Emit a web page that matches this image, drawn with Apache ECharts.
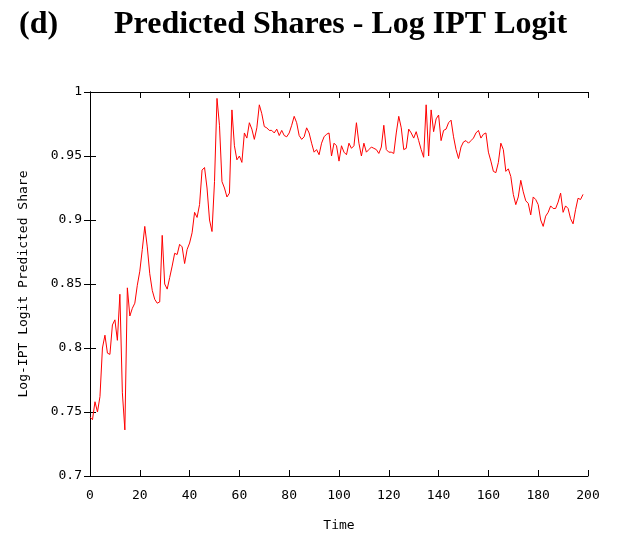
<!DOCTYPE html>
<html>
<head>
<meta charset="utf-8">
<script src="https://cdn.jsdelivr.net/npm/echarts@6/dist/echarts.min.js"></script>
<style>
  html, body { margin: 0; padding: 0; background: #fff; }
  #chart { width: 619px; height: 537px; }
</style>
</head>
<body>
<div id="chart"></div>
<script>
// predicted share, one value per period, t = 0 .. 198
const startTime = 0
const shares = [
  0.746, 0.744, 0.758, 0.750, 0.762, 0.800, 0.810, 0.796, 0.795, 0.818,
  0.822, 0.806, 0.842, 0.765, 0.736, 0.847, 0.825, 0.831, 0.835, 0.849,
  0.860, 0.877, 0.895, 0.879, 0.858, 0.845, 0.838, 0.835, 0.836, 0.888,
  0.850, 0.846, 0.855, 0.864, 0.874, 0.873, 0.881, 0.879, 0.866, 0.877,
  0.882, 0.890, 0.906, 0.902, 0.912, 0.939, 0.941, 0.925, 0.900, 0.891,
  0.930, 0.995, 0.974, 0.930, 0.925, 0.918, 0.921, 0.986, 0.958, 0.947,
  0.950, 0.945, 0.968, 0.964, 0.976, 0.971, 0.963, 0.972, 0.990, 0.983,
  0.973, 0.972, 0.970, 0.970, 0.968, 0.971, 0.966, 0.970, 0.966, 0.965,
  0.968, 0.974, 0.981, 0.976, 0.966, 0.963, 0.965, 0.972, 0.968, 0.960,
  0.953, 0.955, 0.951, 0.960, 0.965, 0.967, 0.968, 0.950, 0.960, 0.958,
  0.946, 0.958, 0.953, 0.951, 0.960, 0.956, 0.958, 0.976, 0.960, 0.950,
  0.960, 0.953, 0.955, 0.957, 0.956, 0.955, 0.952, 0.957, 0.974, 0.955,
  0.953, 0.953, 0.952, 0.968, 0.981, 0.972, 0.955, 0.956, 0.971, 0.968,
  0.964, 0.969, 0.962, 0.955, 0.949, 0.990, 0.950, 0.986, 0.969, 0.979,
  0.982, 0.962, 0.970, 0.971, 0.976, 0.978, 0.965, 0.955, 0.948, 0.957,
  0.961, 0.962, 0.960, 0.962, 0.964, 0.968, 0.970, 0.964, 0.967, 0.968,
  0.953, 0.946, 0.938, 0.937, 0.945, 0.960, 0.955, 0.938, 0.940, 0.934,
  0.920, 0.912, 0.918, 0.931, 0.922, 0.915, 0.913, 0.904, 0.918, 0.916,
  0.912, 0.900, 0.895, 0.903, 0.906, 0.911, 0.909, 0.909, 0.914, 0.921,
  0.906, 0.911, 0.909, 0.901, 0.897, 0.908, 0.917, 0.916, 0.920
]
const xTicks = { min: 0, max: 200, step: 20 }
const yTicks = { min: 0.7, max: 1, step: 0.05 }

const monoFont = '"DejaVu Sans Mono", "Liberation Mono", monospace'
const titleFont = { fontFamily: '"Liberation Serif", serif', fontWeight: 'bold', fontSize: 32, color: '#000' }

const chart = echarts.init(document.getElementById('chart'), null, { renderer: 'canvas' })

const frameAxis = (extra) => Object.assign({
  type: 'value',
  axisLine: { show: true, lineStyle: { color: '#000', width: 1 } },
  axisTick: { show: true, inside: true, length: 6, lineStyle: { color: '#000' } },
  splitLine: { show: false },
}, extra)

chart.setOption({
  backgroundColor: '#fff',
  animation: false,
  title: [
    { text: '(d)', left: 14, top: 4, textStyle: titleFont },
    { text: 'Predicted Shares - Log IPT Logit', left: 109, top: 4, textStyle: titleFont },
  ],
  grid: { left: 90, right: 31, top: 92, bottom: 60 },
  xAxis: [
    frameAxis({
      position: 'bottom',
      min: xTicks.min,
      max: xTicks.max,
      interval: xTicks.step,
      axisLabel: { margin: 13, fontFamily: monoFont, fontSize: 13, color: '#000' },
      name: 'Time',
      nameLocation: 'middle',
      nameGap: 43,
      nameTextStyle: { fontFamily: monoFont, fontSize: 13, color: '#000' },
    }),
    frameAxis({
      position: 'top',
      min: xTicks.min,
      max: xTicks.max,
      interval: xTicks.step,
      axisLabel: { show: false },
    }),
  ],
  yAxis: [
    frameAxis({
      position: 'left',
      min: yTicks.min,
      max: yTicks.max,
      interval: yTicks.step,
      axisLabel: { margin: 8, fontFamily: monoFont, fontSize: 13, color: '#000' },
      name: 'Log-IPT Logit Predicted Share',
      nameLocation: 'middle',
      nameGap: 60,
      nameTextStyle: { fontFamily: monoFont, fontSize: 13, color: '#000' },
    }),
    frameAxis({
      position: 'right',
      min: yTicks.min,
      max: yTicks.max,
      interval: yTicks.step,
      axisLabel: { show: false },
    }),
  ],
  series: [
    {
      type: 'line',
      xAxisIndex: 0,
      yAxisIndex: 0,
      data: shares.map((v, i) => [startTime + i, v]),
      showSymbol: false,
      lineStyle: { color: '#ff0000', width: 1 },
    },
  ],
})
</script>
</body>
</html>
